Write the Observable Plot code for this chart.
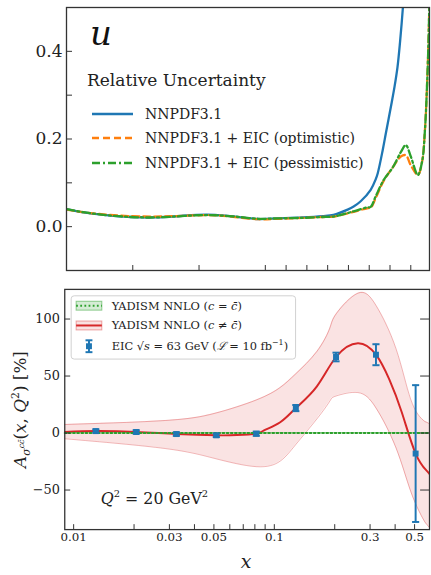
<!DOCTYPE html>
<html><head><meta charset="utf-8">
<script src="https://cdn.jsdelivr.net/npm/d3@7"></script>
<script src="https://cdn.jsdelivr.net/npm/@observablehq/plot@0.6"></script>
<style>
html,body{margin:0;padding:0;background:#fff;}
body{width:431px;height:575px;overflow:hidden;position:relative;}
#top{position:absolute;left:0;top:0;}
#bot{position:absolute;left:0;top:280px;}
svg{font-family:"DejaVu Serif",serif;}
</style></head>
<body><div id="top"></div><div id="bot"></div>
<script>
// ---------------- TOP PANEL DATA (relative uncertainty of u) ----------------
const blueX = [1e-4,1.8e-4,3.6e-4,9.3e-4,2.1e-3,4.2e-3,9.3e-3,0.0175,0.035,0.078,0.163,0.279,0.375,0.428,0.496,0.525,0.559,0.607,0.631,0.641,0.665,0.680,0.704,0.722,0.736,0.748,0.762,0.775];
const blueY = [0.040,0.0325,0.027,0.022,0.021,0.0235,0.027,0.027,0.023,0.0175,0.019,0.021,0.024,0.027,0.039,0.046,0.058,0.084,0.108,0.122,0.175,0.213,0.273,0.32,0.364,0.42,0.50,0.60];
const optX = [1e-4,1.8e-4,3.6e-4,9.3e-4,2.1e-3,4.2e-3,9.3e-3,0.0175,0.035,0.078,0.163,0.279,0.375,0.428,0.525,0.59,0.607,0.631,0.670,0.713,0.752,0.776,0.80,0.834,0.855,0.868,0.878,0.885,0.889,0.893];
const optY = [0.039,0.033,0.028,0.024,0.023,0.024,0.026,0.026,0.022,0.017,0.018,0.020,0.022,0.023,0.034,0.042,0.043,0.065,0.105,0.135,0.160,0.163,0.14,0.118,0.15,0.22,0.32,0.42,0.50,0.60];
const pesX = [1e-4,1.8e-4,3.6e-4,9.3e-4,2.1e-3,4.2e-3,9.3e-3,0.0175,0.035,0.078,0.163,0.279,0.375,0.428,0.525,0.59,0.607,0.631,0.670,0.713,0.752,0.776,0.80,0.834,0.855,0.868,0.878,0.885,0.889,0.893];
const pesY = [0.040,0.033,0.027,0.022,0.021,0.023,0.026,0.026,0.023,0.018,0.019,0.020,0.022,0.023,0.035,0.044,0.045,0.069,0.107,0.135,0.170,0.186,0.16,0.118,0.15,0.22,0.32,0.42,0.50,0.60];
const topXTicks = [1e-3,1e-2,0.1,0.2,0.3,0.4,0.5,0.6,0.7,0.8];
const topYTicks = [0,0.1,0.2,0.3,0.4];
const topYLabels = [0,0.2,0.4];

// ---------------- BOTTOM PANEL DATA (charm asymmetry) ----------------
const eicX   = [0.0129,0.0205,0.0325,0.0514,0.0813,0.128,0.203,0.321,0.506];
const eicY   = [1.7,0.9,-0.9,-2.0,-0.6,21.9,66.7,68.7,-18];
const eicErr = [1.5,1.5,1.5,1.5,1.8,2.7,3.8,9.2,60];
const redX = [0.00903,0.0129,0.0205,0.0325,0.0514,0.065,0.0813,0.0889,0.107,0.128,0.163,0.203,0.261,0.321,0.374,0.432,0.506,0.574,0.5934];
const redY = [0.9,1.7,1.0,-0.8,-2.0,-1.8,-0.6,2.3,9.5,21.9,41,66.7,78.8,68.7,47,18,-18,-33,-36];
const bandX  = [0.00903,0.0286,0.0505,0.0813,0.107,0.128,0.163,0.189,0.204,0.261,0.321,0.404,0.478,0.546,0.574,0.5934];
const bandHi = [7.5,11,17.3,29,40,52,71.6,92,104.9,122.7,112,74,29.7,12,9.5,8];
const bandLo = [-5,-13.6,-22.3,-29.5,-24.6,-10,12.4,28,32.6,35.5,22,-13,-51,-74,-80,-83];
const symX = [0.00903,0.5934];
const symY = [0,0];
const symErr = [0.4,0.4];
const botXTicks = [0.01,0.02,0.03,0.04,0.05,0.06,0.07,0.08,0.09,0.1,0.2,0.3,0.4,0.5];
const botXLabels = [0.01,0.03,0.05,0.1,0.3,0.5];
const botYTicks = [-50,0,50,100];

const BLUE="#1f77b4", ORANGE="#ff7f0e", GREEN="#2ca02c", RED="#d62728", INK="#222";

// hybrid log/linear x axis of the top panel
const topT = x => x <= 0.1 ? Math.log10(x) + 1 : (x - 0.1) * 3.136;
const fmtY = d => d < 0 ? "\u2212" + Math.abs(d) : String(d);

// ---------- TOP ----------
const tW = 431, tH = 280, tL = 66, tR = 2, tT = 7, tB = 10;
const tIW = tW - tL - tR, tIH = tH - tT - tB;
const topPlot = Plot.plot({
  width: tW, height: tH, marginLeft: tL, marginRight: tR, marginTop: tT, marginBottom: tB,
  x: {type: "linear", transform: topT, domain: [topT(1e-4), topT(0.89)], axis: null},
  y: {domain: [-0.1, 0.5], axis: null},
  style: {fontFamily: "DejaVu Serif", background: "white", color: INK},
  marks: [
    Plot.line(blueX, {x: blueX, y: blueY, stroke: BLUE, strokeWidth: 2.3, curve: "catmull-rom", clip: true}),
    Plot.line(optX, {x: optX, y: optY, stroke: ORANGE, strokeWidth: 2.3, strokeDasharray: "7,4", curve: "catmull-rom", clip: true}),
    Plot.line(pesX, {x: pesX, y: pesY, stroke: GREEN, strokeWidth: 2.3, strokeDasharray: "8,3,2,3", curve: "catmull-rom", clip: true}),
    Plot.ruleX(topXTicks, {x: d => d, insetTop: tIH - 5, stroke: "#333", strokeWidth: 1}),
    Plot.ruleY(topYTicks, {y: d => d, insetRight: tIW - 6, stroke: "#333", strokeWidth: 1}),
    Plot.text(topYLabels, {y: d => d, text: d => d.toFixed(1), frameAnchor: "left", dx: -4, textAnchor: "end", fontSize: 17, fill: INK}),
    Plot.frame({stroke: "#333", strokeWidth: 1.3})
  ]
});
document.getElementById("top").appendChild(topPlot);

{
  const s = d3.select(topPlot);
  const ann = s.append("g").attr("text-anchor", "start");
  ann.append("text").attr("x", 90).attr("y", 45).attr("font-size", 34).attr("font-style", "italic").attr("fill", "#111").text("u");
  ann.append("text").attr("x", 87).attr("y", 86).attr("font-size", 17).attr("fill", INK).text("Relative Uncertainty");
  const rows = [
    {c: BLUE, dash: null, t: "NNPDF3.1", y: 114},
    {c: ORANGE, dash: "7,4", t: "NNPDF3.1 + EIC (optimistic)", y: 138},
    {c: GREEN, dash: "8,3,2,3", t: "NNPDF3.1 + EIC (pessimistic)", y: 163}
  ];
  for (const r of rows) {
    ann.append("line").attr("x1", 92).attr("x2", 133).attr("y1", r.y).attr("y2", r.y)
      .attr("stroke", r.c).attr("stroke-width", 2.3).attr("stroke-dasharray", r.dash);
    ann.append("text").attr("x", 145).attr("y", r.y + 5).attr("font-size", 14).attr("fill", INK).text(r.t);
  }
}

// ---------- BOTTOM ----------
const bW = 436, bH = 295, bL = 65, bR = 2, bT = 9, bB = 43;
const bIW = bW - bL - bR, bIH = bH - bT - bB;
const capSymbol = {draw(ctx, size) { const w = Math.sqrt(size / Math.PI); ctx.moveTo(-w, 0); ctx.lineTo(w, 0); }};
const botPlot = Plot.plot({
  width: bW, height: bH, marginLeft: bL, marginRight: bR, marginTop: bT, marginBottom: bB,
  x: {type: "log", domain: [0.00903, 0.5934], axis: null},
  y: {domain: [-84.7, 126], axis: null},
  style: {fontFamily: "DejaVu Serif", background: "white", color: INK},
  marks: [
    Plot.areaY(bandX, {x: bandX, y1: bandLo, y2: bandHi, fill: RED, fillOpacity: 0.13, curve: "natural", clip: true}),
    Plot.line(bandX, {x: bandX, y: bandHi, stroke: RED, strokeOpacity: 0.35, strokeWidth: 1, curve: "natural", clip: true}),
    Plot.line(bandX, {x: bandX, y: bandLo, stroke: RED, strokeOpacity: 0.35, strokeWidth: 1, curve: "natural", clip: true}),
    Plot.areaY(symX, {x: symX, y1: symY.map((v, i) => v - symErr[i]), y2: symY.map((v, i) => v + symErr[i]), fill: GREEN, fillOpacity: 0.25}),
    Plot.line(redX, {x: redX, y: redY, stroke: RED, strokeWidth: 2, curve: "natural", clip: true}),
    Plot.line(symX, {x: symX, y: symY, stroke: GREEN, strokeWidth: 2, strokeDasharray: "1.8,2.4"}),
    Plot.ruleX(eicX, {x: eicX, y1: eicY.map((v, i) => v - eicErr[i]), y2: eicY.map((v, i) => v + eicErr[i]), stroke: BLUE, strokeWidth: 2}),
    Plot.dot(eicX, {x: eicX, y: eicY.map((v, i) => v - eicErr[i]), symbol: capSymbol, r: 3.6, stroke: BLUE, strokeWidth: 2, fill: "none"}),
    Plot.dot(eicX, {x: eicX, y: eicY.map((v, i) => v + eicErr[i]), symbol: capSymbol, r: 3.6, stroke: BLUE, strokeWidth: 2, fill: "none"}),
    Plot.dot(eicX, {x: eicX, y: eicY, symbol: "square", r: 3.4, fill: BLUE, stroke: "none"}),
    Plot.ruleX(botXTicks, {x: d => d, insetTop: bIH - 5, stroke: "#333", strokeWidth: 1}),
    Plot.ruleY(botYTicks, {y: d => d, insetRight: bIW - 6, stroke: "#333", strokeWidth: 1}),
    Plot.ruleY(botYTicks, {y: d => d, insetLeft: bIW - 9, stroke: "#333", strokeWidth: 1}),
    Plot.text(botXLabels, {x: d => d, text: d => String(d), frameAnchor: "bottom", dy: 12, fontSize: 12, fill: INK}),
    Plot.text(botYTicks, {y: d => d, text: fmtY, frameAnchor: "left", dx: -5, textAnchor: "end", fontSize: 13, fill: INK}),
    Plot.frame({stroke: "#333", strokeWidth: 1.3})
  ]
});
document.getElementById("bot").appendChild(botPlot);

{
  const s = d3.select(botPlot);
  // legend
  const g = s.append("g").attr("text-anchor", "start");
  g.append("rect").attr("x", 72).attr("y", 16).attr("width", 227).attr("height", 64).attr("rx", 3)
    .attr("fill", "white").attr("fill-opacity", 0.85).attr("stroke", "#d0d0d0").attr("stroke-width", 1);
  const sx = 77, sw = 26;
  // row 1
  g.append("rect").attr("x", sx).attr("y", 26 - 4.5).attr("width", sw).attr("height", 9)
    .attr("fill", GREEN).attr("fill-opacity", 0.2).attr("stroke", GREEN).attr("stroke-opacity", 0.5);
  g.append("line").attr("x1", sx).attr("x2", sx + sw).attr("y1", 26).attr("y2", 26)
    .attr("stroke", GREEN).attr("stroke-width", 2).attr("stroke-dasharray", "1.8,2.4");
  // row 2
  g.append("rect").attr("x", sx).attr("y", 46 - 4.5).attr("width", sw).attr("height", 9)
    .attr("fill", RED).attr("fill-opacity", 0.14).attr("stroke", RED).attr("stroke-opacity", 0.4);
  g.append("line").attr("x1", sx).attr("x2", sx + sw).attr("y1", 46).attr("y2", 46)
    .attr("stroke", RED).attr("stroke-width", 2);
  // row 3
  const ex = sx + sw / 2, ey = 67;
  g.append("line").attr("x1", ex).attr("x2", ex).attr("y1", ey - 6).attr("y2", ey + 6).attr("stroke", BLUE).attr("stroke-width", 2);
  g.append("line").attr("x1", ex - 3.5).attr("x2", ex + 3.5).attr("y1", ey - 6).attr("y2", ey - 6).attr("stroke", BLUE).attr("stroke-width", 2);
  g.append("line").attr("x1", ex - 3.5).attr("x2", ex + 3.5).attr("y1", ey + 6).attr("y2", ey + 6).attr("stroke", BLUE).attr("stroke-width", 2);
  g.append("rect").attr("x", ex - 3).attr("y", ey - 3).attr("width", 6).attr("height", 6).attr("fill", BLUE);
  const fs = 11.5;
  const t1 = g.append("text").attr("x", 113).attr("y", 30).attr("font-size", fs).attr("fill", INK);
  t1.append("tspan").text("YADISM NNLO (");
  t1.append("tspan").attr("font-style", "italic").text("c");
  t1.append("tspan").text(" = ");
  t1.append("tspan").attr("font-style", "italic").text("c\u0304");
  t1.append("tspan").text(")");
  const t2 = g.append("text").attr("x", 113).attr("y", 50).attr("font-size", fs).attr("fill", INK);
  t2.append("tspan").text("YADISM NNLO (");
  t2.append("tspan").attr("font-style", "italic").text("c");
  t2.append("tspan").text(" \u2260 ");
  t2.append("tspan").attr("font-style", "italic").text("c\u0304");
  t2.append("tspan").text(")");
  const t3 = g.append("text").attr("x", 113).attr("y", 71).attr("font-size", fs).attr("fill", INK);
  t3.append("tspan").text("EIC \u221A");
  t3.append("tspan").attr("font-style", "italic").text("s");
  t3.append("tspan").text(" = 63 GeV (");
  t3.append("tspan").attr("font-style", "italic").text("\u2112");
  t3.append("tspan").text(" = 10 fb");
  t3.append("tspan").attr("font-size", 8).attr("dy", -5).text("\u22121");
  t3.append("tspan").attr("dy", 5).text(")");

  // Q^2 annotation
  const q = g.append("text").attr("x", 102).attr("y", 227).attr("font-size", 16).attr("fill", INK);
  q.append("tspan").attr("font-style", "italic").text("Q");
  q.append("tspan").attr("font-size", 10).attr("dy", -7).text("2");
  q.append("tspan").attr("dy", 7).text(" = 20 GeV");
  q.append("tspan").attr("font-size", 10).attr("dy", -7).text("2");

  // x label
  s.append("text").attr("x", 249).attr("y", 291).attr("text-anchor", "middle").attr("font-size", 19)
    .attr("font-style", "italic").attr("fill", INK).text("x");

  // y label
  const yl = s.append("text").attr("transform", "translate(26,131) rotate(-90)").attr("text-anchor", "middle")
    .attr("font-size", 17).attr("fill", INK);
  yl.append("tspan").attr("font-style", "italic").text("A");
  yl.append("tspan").attr("font-style", "italic").attr("font-size", 11).attr("dy", 4).text("\u03C3");
  yl.append("tspan").attr("font-style", "italic").attr("font-size", 8).attr("dy", -6).text("cc\u0304");
  yl.append("tspan").attr("dy", 2).text("(");
  yl.append("tspan").attr("font-style", "italic").text("x");
  yl.append("tspan").text(", ");
  yl.append("tspan").attr("font-style", "italic").text("Q");
  yl.append("tspan").attr("font-size", 11).attr("dy", -7).text("2");
  yl.append("tspan").attr("dy", 7).text(") [%]");
}
</script>
</body></html>
